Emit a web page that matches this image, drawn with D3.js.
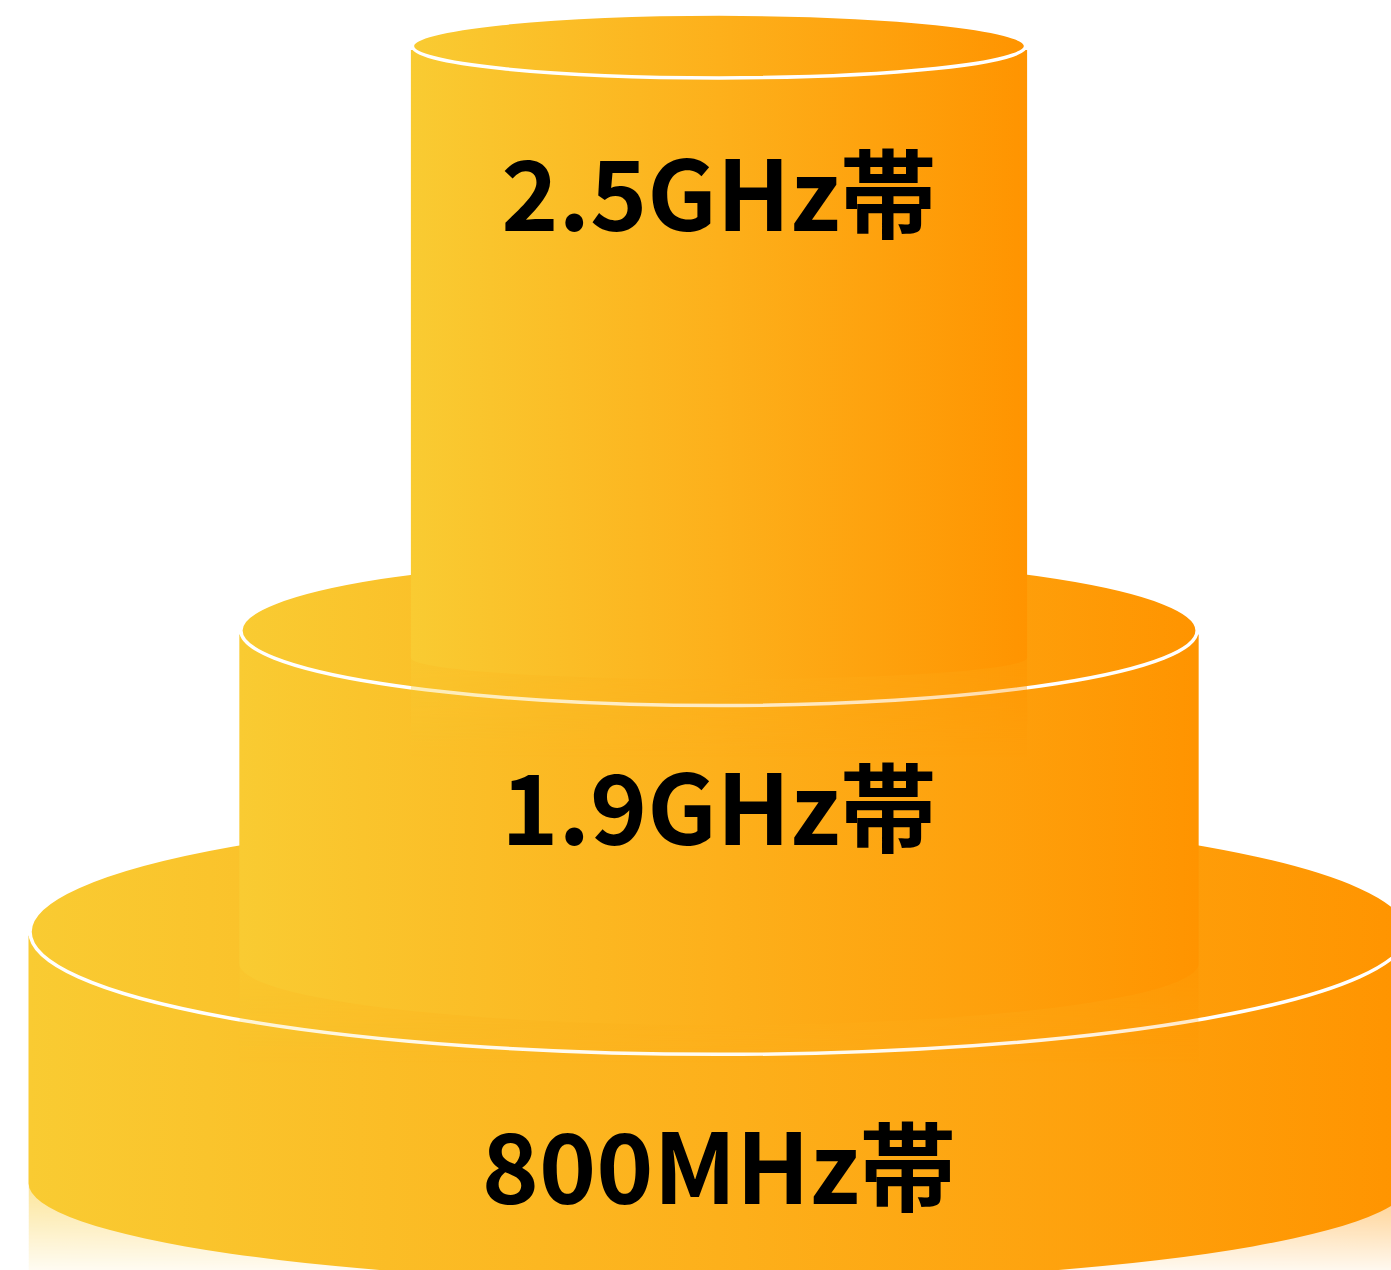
<!DOCTYPE html>
<html>
<head>
<meta charset="utf-8">
<script src="https://cdn.jsdelivr.net/npm/d3@7"></script>
<style>
  html, body { margin: 0; padding: 0; background: #fff; }
  svg { display: block; }
</style>
</head>
<body>
<div id="container"></div>
<script>
// tiers, bottom to top
var bands = ['800MHz帯', '1.9GHz帯', '2.5GHz帯'];
var reach = [100, 69.4, 44.5];       // relative coverage radius (%)
var levelBase = [0, 19.3, 46.2];     // where each tier's body ends
var levelTop = [22.1, 48.6, 100];    // top surface of each tier

var width = 1391, height = 1270;
var cx = 719;
var tiltTop = [0.178, 0.157, 0.104];
var tiltBottom = [0.145, 0.129, 0.071];
var labelDy = [272, 215, 185];
var fadeLen = 100;

var r = d3.scaleLinear().domain([0, 100]).range([0, 689]);
var y = d3.scaleLinear().domain([0, 100]).range([1183, 46]);

var svg = d3.select('div#container')
	.append('svg')
	.attr('width', width)
	.attr('height', height);

var defs = svg.append('defs');

var grad = defs.append('linearGradient')
	.attr('id', 'orange')
	.attr('x1', 0).attr('y1', 0).attr('x2', 1).attr('y2', 0);
grad.append('stop').attr('offset', '0%').attr('stop-color', '#F9CB32');
grad.append('stop').attr('offset', '50%').attr('stop-color', '#FDB01B');
grad.append('stop').attr('offset', '100%').attr('stop-color', '#FF9400');

// vertical fade for the reflection under each tier
var fade = defs.append('linearGradient')
	.attr('id', 'fadeGrad')
	.attr('x1', 0).attr('y1', 0).attr('x2', 0).attr('y2', 1);
fade.append('stop').attr('offset', '0%').attr('stop-color', '#fff').attr('stop-opacity', 0.5);
fade.append('stop').attr('offset', '100%').attr('stop-color', '#fff').attr('stop-opacity', 0);

defs.append('mask')
	.attr('id', 'fade')
	.attr('maskContentUnits', 'objectBoundingBox')
	.append('rect')
	.attr('width', 1)
	.attr('height', 1)
	.attr('fill', 'url(#fadeGrad)');

var tiers = bands.map(function(b, i) {
	var rx = r(reach[i]);
	return {
		label: b,
		rx: rx,
		topY: y(levelTop[i]),
		baseY: y(levelBase[i]),
		ryTop: rx * tiltTop[i],
		ryBot: rx * tiltBottom[i],
		labelY: y(levelTop[i]) + labelDy[i]
	};
});

var g = svg.selectAll('g.tier')
	.data(tiers)
	.join('g')
	.attr('class', 'tier');

// reflection
g.append('rect')
	.attr('x', d => cx - d.rx - 1.5)
	.attr('y', d => d.baseY)
	.attr('width', d => 2 * d.rx + 3)
	.attr('height', fadeLen)
	.attr('fill', 'url(#orange)')
	.attr('mask', 'url(#fade)');

// body
g.append('path')
	.attr('d', d => {
		var l = cx - d.rx - 1.5, rr = cx + d.rx + 1.5;
		return 'M' + l + ',' + (d.topY + 4) +
			'L' + l + ',' + d.baseY +
			'A' + (d.rx + 1.5) + ',' + d.ryBot + ' 0 0 0 ' + rr + ',' + d.baseY +
			'L' + rr + ',' + (d.topY + 4) + 'Z';
	})
	.attr('fill', 'url(#orange)');

// top surface
g.append('ellipse')
	.attr('cx', cx)
	.attr('cy', d => d.topY)
	.attr('rx', d => d.rx)
	.attr('ry', d => d.ryTop)
	.attr('fill', 'url(#orange)')
	.attr('stroke', '#fff')
	.attr('stroke-width', 3.5);

g.append('text')
	.attr('x', cx)
	.attr('y', d => d.labelY)
	.attr('text-anchor', 'middle')
	.attr('font-family', '"Noto Sans CJK JP", "Noto Sans", sans-serif')
	.attr('font-weight', 700)
	.attr('font-size', '97px')
	.attr('fill', '#000')
	.text(d => d.label);
</script>
</body>
</html>
